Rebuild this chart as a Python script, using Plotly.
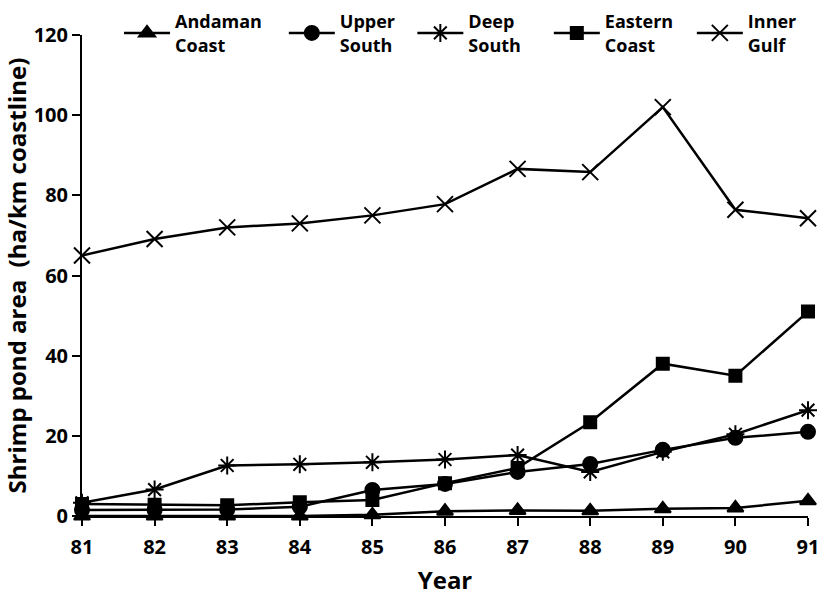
import plotly.graph_objects as go

years = [81, 82, 83, 84, 85, 86, 87, 88, 89, 90, 91]
andaman_coast = [0.0, 0.0, 0.0, 0.0, 0.3, 1.2, 1.4, 1.3, 1.8, 2.0, 3.8]
upper_south = [1.5, 1.5, 1.6, 2.3, 6.5, 8.0, 11.0, 13.0, 16.5, 19.5, 21.0]
deep_south = [3.3, 6.6, 12.6, 12.9, 13.4, 14.1, 15.2, 11.0, 16.0, 20.4, 26.4]
eastern_coast = [3.0, 2.8, 2.7, 3.4, 4.0, 8.2, 12.0, 23.4, 38.0, 35.0, 51.0]
inner_gulf = [65.0, 69.1, 72.0, 73.0, 75.0, 77.8, 86.6, 85.8, 102.0, 76.4, 74.3]

series_names = ["Andaman<br>Coast", "Upper<br>South", "Deep<br>South", "Eastern<br>Coast", "Inner<br>Gulf"]
series_values = [andaman_coast, upper_south, deep_south, eastern_coast, inner_gulf]
symbols = ["triangle-up", "circle", "asterisk-open", "square", "x-thin-open"]
sizes = [14, 14, 15, 12, 16]
legend_ids = ["legend", "legend2", "legend3", "legend4", "legend5"]
legend_x = [0.051, 0.278, 0.455, 0.643, 0.840]

FONT = "Open Sans"

fig = go.Figure()
for name, vals, sym, sz, lid in zip(series_names, series_values, symbols, sizes, legend_ids):
    fig.add_trace(go.Scatter(
        x=years, y=vals, name=name, mode="lines+markers",
        line=dict(color="black", width=2.5),
        marker=dict(symbol=sym, size=sz, color="black",
                    line=dict(color="black", width=2)),
        cliponaxis=False, legend=lid,
    ))

legend_common = dict(
    orientation="h", y=1.0665, xanchor="left", yanchor="top",
    font=dict(family=FONT, size=18, color="black", weight=700),
    itemwidth=46, bgcolor="rgba(0,0,0,0)",
)
legend_layout = {}
for lid, lx in zip(legend_ids, legend_x):
    legend_layout[lid] = dict(legend_common, x=lx)

fig.update_layout(
    width=820, height=603,
    margin=dict(l=82, r=12, t=35, b=87, autoexpand=False),
    plot_bgcolor="white", paper_bgcolor="white",
    font=dict(family=FONT, color="black", size=20, weight=700),
    showlegend=True,
    xaxis=dict(
        range=[81, 91], tickvals=years, ticktext=[str(y) for y in years],
        showgrid=False, zeroline=False,
        showline=True, linecolor="black", linewidth=2,
        ticks="outside", ticklen=8, tickwidth=2, tickcolor="black",
        ticklabelstandoff=4,
        tickfont=dict(family=FONT, size=20, weight=700),
        title=dict(text="Year", font=dict(family=FONT, size=24, weight=700), standoff=13),
    ),
    yaxis=dict(
        range=[0, 120], tickvals=[0, 20, 40, 60, 80, 100, 120],
        showgrid=False, zeroline=False,
        showline=True, linecolor="black", linewidth=2,
        ticks="outside", ticklen=8, tickwidth=2, tickcolor="black",
        tickfont=dict(family=FONT, size=20, weight=700),
        title=dict(text="Shrimp pond area  (ha/km coastline)",
                   font=dict(family=FONT, size=24, weight=700), standoff=11),
    ),
    **legend_layout,
)

fig.write_html(
    "out.html",
    config={"displayModeBar": False},
    post_script="document.body.style.margin='0';document.body.style.overflow='hidden';",
)
